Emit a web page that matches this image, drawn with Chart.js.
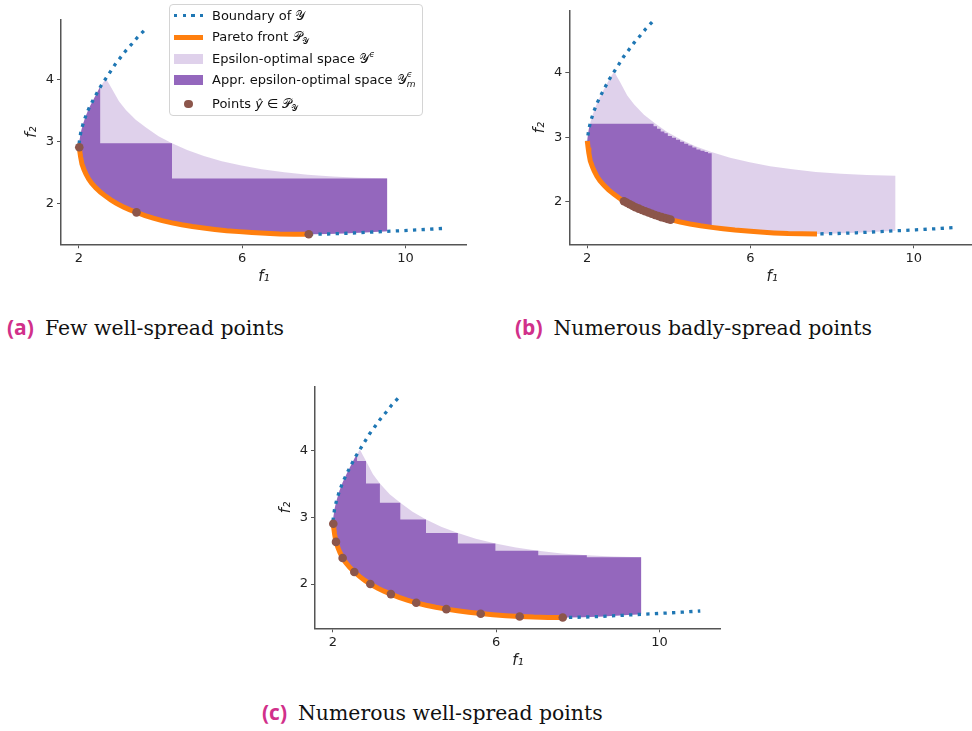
<!DOCTYPE html>
<html>
<head>
<meta charset="utf-8">
<script src="https://cdn.jsdelivr.net/npm/chart.js@4.4.1/dist/chart.umd.min.js"></script>
<style>
  html, body { margin: 0; padding: 0; background: #fff; }
  body { width: 972px; height: 731px; position: relative; overflow: hidden; font-family: "DejaVu Sans", sans-serif; }
  canvas { position: absolute; }
  .caption { position: absolute; font-family: "DejaVu Serif", serif; font-size: 20.4px; line-height: 1; color: #111; white-space: nowrap; }
  .caption b { font-family: "Open Sans", sans-serif; font-weight: 700; font-size: 21px; color: #d1308a; margin-right: 11px; }
  #legend { position: absolute; left: 169px; top: 4px; width: 252px; height: 110px; border: 1px solid #d4d4d4; border-radius: 4px; background: rgba(255,255,255,0.8); }
  #legend .row { position: absolute; left: 0; height: 18px; line-height: 18px; font-size: 13px; color: #111; white-space: nowrap; }
  #legend .h { position: absolute; left: 4px; width: 29px; }
  #legend .t { position: absolute; left: 42px; top: 0; }
  .cal { font-family: "DejaVu Sans", "DejaVu Serif", serif; }
  .up, .dn { position: relative; font-size: 9px; line-height: 9px; }
  .up { top: -6px; }
  .dn { top: 3px; }
  .ss { position: relative; display: inline-block; width: 8px; height: 1px; }
  .ss i { position: absolute; left: 0; font-size: 9px; line-height: 9px; }
  .ss .a { top: -13px; }
  .ss .b { top: -3px; }
</style>
</head>
<body>
<canvas id="chartA" width="480" height="300" style="left:0;top:0"></canvas>
<canvas id="chartB" width="480" height="300" style="left:500px;top:0"></canvas>
<canvas id="chartC" width="480" height="316" style="left:260px;top:370px"></canvas>

<div id="legend">
  <div class="row" style="top:2px"><span class="h" style="top:7px;height:3.3px;background:repeating-linear-gradient(to right,#1f77b4 0 3.3px,transparent 3.3px 8.6px)"></span><span class="t">Boundary of <span class="cal">𝒴</span></span></div>
  <div class="row" style="top:23px"><span class="h" style="top:6.5px;height:5px;background:#ff7f0e"></span><span class="t">Pareto front <span class="cal">𝒫</span><span class="dn cal">𝒴</span></span></div>
  <div class="row" style="top:44.7px"><span class="h" style="top:4px;height:10px;background:rgba(148,103,189,0.3)"></span><span class="t">Epsilon-optimal space <span class="cal">𝒴</span><i class="up">ϵ</i></span></div>
  <div class="row" style="top:66px"><span class="h" style="top:4px;height:10px;background:#9467bd"></span><span class="t">Appr. epsilon-optimal space <span class="cal">𝒴</span><span class="ss"><i class="a">ϵ</i><i class="b">m</i></span></span></div>
  <div class="row" style="top:89.7px"><span class="h" style="top:5px;left:14.2px;width:8.6px;height:8.6px;border-radius:50%;background:#8c564b"></span><span class="t">Points <i>ŷ</i> ∈ <span class="cal">𝒫</span><span class="dn cal">𝒴</span></span></div>
</div>

<div class="caption" style="left:7px;top:317px"><b>(a)</b>Few well-spread points</div>
<div class="caption" style="left:515px;top:317px"><b>(b)</b>Numerous badly-spread points</div>
<div class="caption" style="left:262px;top:702px"><b>(c)</b>Numerous well-spread points</div>

<script>
"use strict";

// boundary of Y, upper-left branch (from the top down to the front)
const leftF1 = [3.59, 3.44, 3.30, 3.15, 3.02, 2.89, 2.77, 2.66, 2.54, 2.43, 2.34, 2.24, 2.16, 2.09, 2.04, 2.01];
const leftF2 = [4.79, 4.69, 4.58, 4.47, 4.36, 4.25, 4.13, 4.02, 3.90, 3.77, 3.66, 3.53, 3.40, 3.26, 3.13, 3.00];

// Pareto front
const frontF1 = [2.00, 2.008, 2.02, 2.04, 2.074, 2.12, 2.17, 2.237, 2.31, 2.41, 2.523, 2.65, 2.78, 2.915, 3.10, 3.25,
                 3.42, 3.62, 3.82, 4.04, 4.28, 4.52, 4.778, 5.05, 5.33, 5.62, 5.92, 6.24, 6.575, 6.92, 7.27, 7.63];
const frontF2 = [2.94, 2.905, 2.84, 2.75, 2.633, 2.55, 2.475, 2.392, 2.325, 2.252, 2.181, 2.115, 2.055, 2.00, 1.936, 1.893,
                 1.849, 1.80, 1.758, 1.718, 1.682, 1.651, 1.623, 1.598, 1.576, 1.556, 1.54, 1.525, 1.512, 1.503, 1.499, 1.497];

// boundary of Y, lower-right branch after the front
const rightF1 = [8.10, 8.60, 9.10, 9.55, 10.05, 10.55, 11.00];
const rightF2 = [1.502, 1.514, 1.53, 1.545, 1.56, 1.577, 1.595];

// upper edge of the epsilon-optimal space
const epsF1 = [2.66, 2.73, 2.81, 2.98, 3.15, 3.39, 3.65, 3.95, 4.28, 4.65, 5.06, 5.50, 5.98, 6.48, 7.03, 7.60, 8.22, 8.85, 9.55];
const epsF2 = [4.02, 3.94, 3.85, 3.65, 3.51, 3.35, 3.22, 3.085, 2.97, 2.86, 2.765, 2.68, 2.61, 2.55, 2.50, 2.46, 2.433, 2.412, 2.402];

// (a) few well-spread points
const ptsAF1 = [2.008, 3.41, 7.63];
const ptsAF2 = [2.905, 1.852, 1.497];
const stepsAF1 = [9.55, 4.28, 2.52];
const stepsAF2 = [2.40, 2.97, 3.89];
const baseA = 1.545;

// (b) numerous badly-spread points
const ptsBF1 = [2.90, 2.97, 3.04, 3.11, 3.18, 3.26, 3.34, 3.42, 3.50, 3.58, 3.66, 3.74, 3.82, 3.90, 3.97, 4.04];
const ptsBF2 = [2.005, 1.982, 1.958, 1.933, 1.912, 1.89, 1.869, 1.849, 1.829, 1.81, 1.791, 1.774, 1.758, 1.743, 1.73, 1.718];
const stepsBF1 = [5.05, 4.96, 4.875, 4.775, 4.675, 4.575, 4.475, 4.375, 4.275, 4.175, 4.075, 3.975, 3.89, 3.80, 3.71, 3.625, 2.07];
const stepsBF2 = [2.75, 2.77, 2.79, 2.81, 2.84, 2.87, 2.90, 2.93, 2.96, 2.99, 3.02, 3.06, 3.09, 3.13, 3.17, 3.21, 3.21];
const baseB = 1.598;

// (c) numerous well-spread points
const ptsCF1 = [2.008, 2.074, 2.237, 2.523, 2.915, 3.42, 4.04, 4.778, 5.62, 6.575, 7.63];
const ptsCF2 = [2.905, 2.633, 2.392, 2.181, 2.00, 1.849, 1.718, 1.623, 1.553, 1.512, 1.497];
const stepsCF1 = [9.55, 8.22, 7.03, 5.98, 5.06, 4.28, 3.65, 3.15, 2.81, 2.59];
const stepsCF2 = [2.402, 2.433, 2.50, 2.61, 2.765, 2.97, 3.22, 3.51, 3.85, 3.95];
const baseC = 1.545;

const xTicks = [2, 6, 10];
const yTicks = [2, 3, 4];

const C_BOUND = "#1f77b4";
const C_FRONT = "#ff7f0e";
const C_EPS = "rgba(148,103,189,0.3)";
const C_APPR = "#9467bd";
const C_PTS = "#8c564b";

function xy(f1, f2) {
    return f1.map((v, i) => ({ x: v, y: f2[i] }));
}

const lower = xy(frontF1, frontF2).concat(xy(rightF1, rightF2));
const upperLeft = xy(leftF1, leftF2);
const boundary = upperLeft.concat(lower);

// closed outline of the epsilon-optimal space
function epsShape() {
    const top = xy(epsF1, epsF2);
    const peak = top[0];
    const edge = top[top.length - 1];
    return lower.filter(p => p.x <= edge.x)
        .concat(top.slice().reverse())
        .concat(upperLeft.filter(p => p.y < peak.y));
}

// closed outline of the staircase (union of boxes), right edge first
function apprShape(sx, sy, base) {
    const pts = lower.filter(p => p.x < sx[0]);
    let prev = base;
    sx.forEach((x, i) => {
        pts.push({ x: x, y: prev }, { x: x, y: sy[i] });
        prev = sy[i];
    });
    return pts.concat(upperLeft.filter(p => p.y < prev));
}

function axis(min, max, ticks, title, isX) {
    return {
        type: "linear",
        min: min,
        max: max,
        afterBuildTicks: s => { s.ticks = ticks.map(v => ({ value: v })); },
        afterFit: s => { if (isX) s.height = 44; else s.width = 40; },
        grid: { drawOnChartArea: false, drawTicks: true, tickLength: 4, color: "#555", lineWidth: 1 },
        border: { color: "#555", width: 1.5 },
        ticks: { color: "#222", font: { family: "DejaVu Sans", size: 13 }, padding: 3, maxRotation: 0 },
        title: {
            display: true, text: title, color: "#222",
            font: { family: "DejaVu Sans", size: 15, style: "italic" },
            padding: { top: 2, bottom: 2 }
        }
    };
}

function panel(id, pts, appr, pad) {
    return new Chart(document.getElementById(id), {
        type: "line",
        data: {
            datasets: [ {
                data: pts, showLine: false, pointRadius: 4.3, pointBorderWidth: 0,
                pointBackgroundColor: C_PTS, order: 0
            }, {
                data: xy(frontF1, frontF2), borderColor: C_FRONT, borderWidth: 5, pointRadius: 0, order: 1
            }, {
                data: boundary, borderColor: C_BOUND, borderWidth: 3.3, borderDash: [ 3.3, 5.3 ],
                borderCapStyle: "butt", pointRadius: 0, order: 2
            }, {
                data: appr, fill: "shape", backgroundColor: C_APPR, borderColor: "transparent",
                borderWidth: 0, pointRadius: 0, order: 3
            }, {
                data: epsShape(), fill: "shape", backgroundColor: C_EPS, borderColor: "transparent",
                borderWidth: 0, pointRadius: 0, order: 4
            } ]
        },
        options: {
            responsive: false,
            animation: false,
            events: [],
            layout: { padding: pad },
            plugins: { legend: { display: false }, tooltip: { enabled: false } },
            scales: {
                x: axis(1.56, 11.5, xTicks, "f\u2081", true),
                y: axis(1.335, 4.965, yTicks, "f\u2082", false)
            }
        }
    });
}

panel("chartA", xy(ptsAF1, ptsAF2), apprShape(stepsAF1, stepsAF2, baseA),
    { left: 21, top: 20, right: 13.3, bottom: 11.7 });
panel("chartB", xy(ptsBF1, ptsBF2), apprShape(stepsBF1, stepsBF2, baseB),
    { left: 29.3, top: 3.6, right: 5.1, bottom: 11.7 });
panel("chartC", xy(ptsCF1, ptsCF2), apprShape(stepsCF1, stepsCF2, baseC),
    { left: 15, top: 16.7, right: 19.3, bottom: 13.7 });
</script>
</body>
</html>
